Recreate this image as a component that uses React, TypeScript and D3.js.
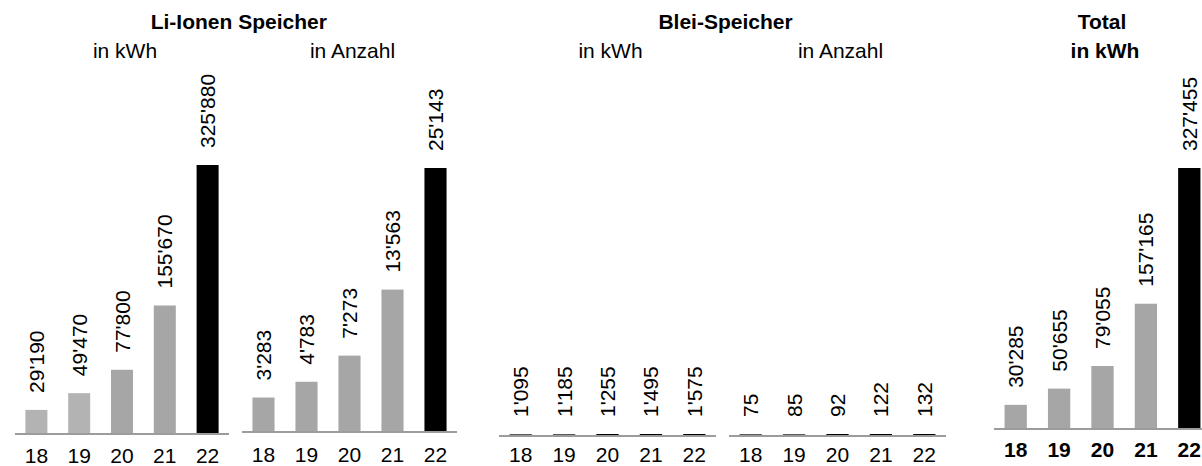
import React from "react";
import * as d3 from "d3";

// ---- data ----
const years = ["18", "19", "20", "21", "22"];
const liIonKwh = [29190, 49470, 77800, 155670, 325880];
const liIonCount = [3283, 4783, 7273, 13563, 25143];
const bleiKwh = [1095, 1185, 1255, 1495, 1575];
const bleiCount = [75, 85, 92, 122, 132];
const totalKwh = [30285, 50655, 79055, 157165, 327455];

const groupTitles = ["Li-Ionen Speicher", "Blei-Speicher", "Total"];
const subTitles = ["in kWh", "in Anzahl", "in kWh", "in Anzahl", "in kWh"];

const W = 1202;
const H = 466;
const FONT = "'Liberation Sans', Arial, Helvetica, sans-serif";
const FS = 21;

const fmt = d3
  .formatLocale({ decimal: ".", thousands: "'", grouping: [3], currency: ["", ""] })
  .format(",");

type Panel = {
  values: number[];
  x0: number;
  x1: number;
  base: number;
  domainMax: number;
  barH: number;
  colors: string[];
  labelBase: number;
  boldTicks: boolean;
  minH: number;
};

const panels: Panel[] = [
  {
    values: liIonKwh, x0: 15, x1: 229, base: 434, domainMax: d3.max(liIonKwh)!, barH: 269,
    colors: ["#b3b3b3", "#b3b3b3", "#a6a6a6", "#a6a6a6", "#000000"], labelBase: 463, boldTicks: false, minH: 0,
  },
  {
    values: liIonCount, x0: 242, x1: 457, base: 432, domainMax: d3.max(liIonCount)!, barH: 264,
    colors: ["#a6a6a6", "#a6a6a6", "#a6a6a6", "#a6a6a6", "#000000"], labelBase: 462, boldTicks: false, minH: 0,
  },
  {
    values: bleiKwh, x0: 499, x1: 716, base: 436, domainMax: d3.max(liIonKwh)!, barH: 269,
    colors: ["#5a5a5a", "#5a5a5a", "#000000", "#000000", "#000000"], labelBase: 462, boldTicks: false, minH: 2,
  },
  {
    values: bleiCount, x0: 729, x1: 946, base: 436, domainMax: d3.max(liIonCount)!, barH: 264,
    colors: ["#5a5a5a", "#5a5a5a", "#000000", "#000000", "#000000"], labelBase: 462, boldTicks: false, minH: 2,
  },
  {
    values: totalKwh, x0: 994, x1: 1211, base: 429, domainMax: d3.max(totalKwh)!, barH: 261,
    colors: ["#a6a6a6", "#a6a6a6", "#a6a6a6", "#a6a6a6", "#000000"], labelBase: 457, boldTicks: true, minH: 0,
  },
];

function PanelView({ p }: { p: Panel }) {
  const x = d3.scaleBand<string>().domain(years).range([p.x0, p.x1]).paddingInner(0.486).paddingOuter(0.243);
  const y = d3.scaleLinear().domain([0, p.domainMax]).range([p.base, p.base - p.barH]);
  const bw = x.bandwidth();
  return (
    <g>
      {p.values.map((v, i) => {
        const h = Math.max(p.base - y(v), p.minH);
        const top = p.base - h;
        const cx = x(years[i])! + bw / 2;
        const ly = top - 17;
        const lx = cx + FS * 0.358;
        return (
          <g key={i}>
            <rect x={x(years[i])} y={top} width={bw} height={h} fill={p.colors[i]} />
            <text
              transform={`translate(${lx},${ly}) rotate(-90)`}
              fontSize={FS}
              fontFamily={FONT}
              fill="#000"
            >
              {fmt(v)}
            </text>
          </g>
        );
      })}
      <line x1={p.x0} x2={p.x1} y1={p.base} y2={p.base} stroke="#9c9c9c" strokeWidth={2} />
      {years.map((yr) => (
        <text
          key={yr}
          x={x(yr)! + bw / 2}
          y={p.labelBase}
          textAnchor="middle"
          fontSize={FS}
          fontFamily={FONT}
          fontWeight={p.boldTicks ? "bold" : "normal"}
          fill="#000"
        >
          {yr}
        </text>
      ))}
    </g>
  );
}

export default function App() {
  const centers = panels.map((p) => (p.x0 + p.x1) / 2);
  return (
    <svg
      width={W}
      height={H}
      style={{ position: "absolute", left: 0, top: 0, background: "#fff" }}
    >
      <rect width={W} height={H} fill="#fff" />
      <text x={(centers[0] + centers[1]) / 2 + 3} y={29} textAnchor="middle" fontSize={FS} fontWeight="bold" fontFamily={FONT}>
        {groupTitles[0]}
      </text>
      <text x={(centers[2] + centers[3]) / 2 + 3} y={29} textAnchor="middle" fontSize={FS} fontWeight="bold" fontFamily={FONT}>
        {groupTitles[1]}
      </text>
      <text x={1102} y={29} textAnchor="middle" fontSize={FS} fontWeight="bold" fontFamily={FONT}>
        {groupTitles[2]}
      </text>
      {subTitles.map((s, i) => (
        <text
          key={i}
          x={i === 4 ? 1105 : centers[i] + 3}
          y={58}
          textAnchor="middle"
          fontSize={FS}
          fontWeight={i === 4 ? "bold" : "normal"}
          fontFamily={FONT}
        >
          {s}
        </text>
      ))}
      {panels.map((p, i) => (
        <PanelView key={i} p={p} />
      ))}
    </svg>
  );
}
